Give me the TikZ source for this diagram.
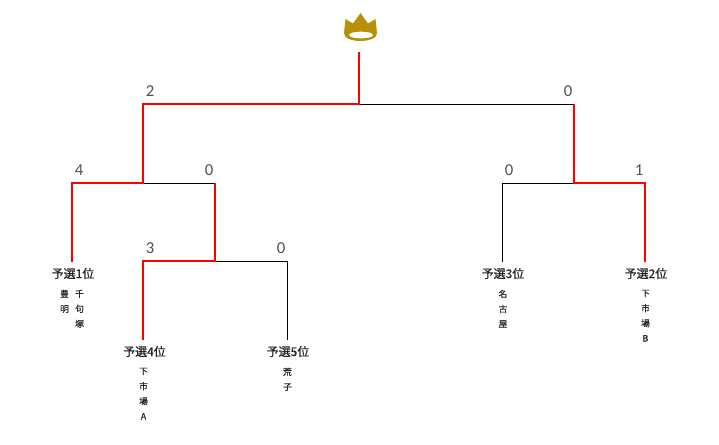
\documentclass[tikz,border=0pt]{standalone}
\usepackage{fontspec}
\setmainfont{Noto Sans CJK JP}
\newfontfamily\numfont{Carlito}
\newfontfamily\seedfont[FakeBold=0.6]{Noto Sans CJK JP}
\newfontfamily\placefont[FakeBold=0.5]{Noto Sans CJK JP}
\definecolor{crowngold}{HTML}{B8900A}
\definecolor{scoregray}{HTML}{505050}
\tikzset{
  win/.style={draw=red,line width=1.5pt,line join=miter},
  lose/.style={draw=black,line width=0.75pt},
  score/.style={text=scoregray,font=\numfont\fontsize{12.5}{13}\selectfont,inner sep=0pt,anchor=center},
  seed/.style={font=\seedfont\fontsize{9}{10}\selectfont,text=black!85,inner sep=0pt,anchor=center},
  place/.style={font=\placefont\fontsize{6.6}{11.25}\selectfont,text=black!85,inner sep=0pt,anchor=north,align=center},
}
\begin{document}
\begin{tikzpicture}[x=0.75pt,y=-0.75pt]
\useasboundingbox (0,0) rectangle (719,444);
% crown
\fill[crowngold,even odd rule] (345.5,19) -- (353,23.5) -- (360.5,13) -- (368,23.5) -- (375.5,19) -- (377,33)
  .. controls (377.5,38) and (369,41) .. (360.5,41) .. controls (352,41) and (343.5,38) .. (344,33) -- cycle
  (349,35) .. controls (349,30.5) and (373,30.5) .. (373,35) .. controls (373,39.5) and (349,39.5) .. (349,35) -- cycle;
% junction coordinates
\coordinate (root) at (359,52);
\coordinate (top) at (359,104);
\coordinate (tl) at (143,104);
\coordinate (tr) at (574,104);
\coordinate (l) at (143,183);
\coordinate (r) at (574,183);
\coordinate (la) at (72,183);
\coordinate (lb) at (215,183);
\coordinate (ra) at (502.5,183);
\coordinate (rb) at (645,183);
\coordinate (m) at (215,261);
\coordinate (ma) at (143,261);
\coordinate (mb) at (287,261);
\coordinate (e1) at (72,262);
\coordinate (e3) at (502.5,262);
\coordinate (e2) at (645,262);
\coordinate (e4) at (143,340);
\coordinate (e5) at (287,340);
% black lines
\draw[lose] (top) -- (tr);
\draw[lose] (l) -- (lb);
\draw[lose] (r) -- (ra) -- (e3);
\draw[lose] (m) -- (mb) -- (e5);
% red lines
\draw[win] (root) -- (top) -- (tl) -- (l) -- (la) -- (e1);
\draw[win] (tr) -- (r) -- (rb) -- (e2);
\draw[win] (lb) -- (m) -- (ma) -- (e4);
% scores
\node[score] (s1) at (150,91) {2};
\node[score] (s2) at (568,91) {0};
\node[score] (s3) at (79,170) {4};
\node[score] (s4) at (209,170) {0};
\node[score] (s5) at (509,170) {0};
\node[score] (s6) at (639,170) {1};
\node[score] (s7) at (150,248) {3};
\node[score] (s8) at (281,248) {0};
% seeds
\node[seed] (n1) at (73,273.5) {予選1位};
\node[seed] (n3) at (503,273.5) {予選3位};
\node[seed] (n2) at (646,273.5) {予選2位};
\node[seed] (n4) at (144.5,351.5) {予選4位};
\node[seed] (n5) at (288,351.5) {予選5位};
% places
\node[place] (p1a) at (64.5,289.5) {豊\\明};
\node[place] (p1b) at (79.5,289.5) {千\\句\\塚};
\node[place] (p3) at (503,289.5) {名\\古\\屋};
\node[place] (p2) at (645.5,289.5) {下\\市\\場\\B};
\node[place] (p4) at (143.5,367.5) {下\\市\\場\\A};
\node[place] (p5) at (287.5,367.5) {荒\\子};
\end{tikzpicture}
\end{document}
